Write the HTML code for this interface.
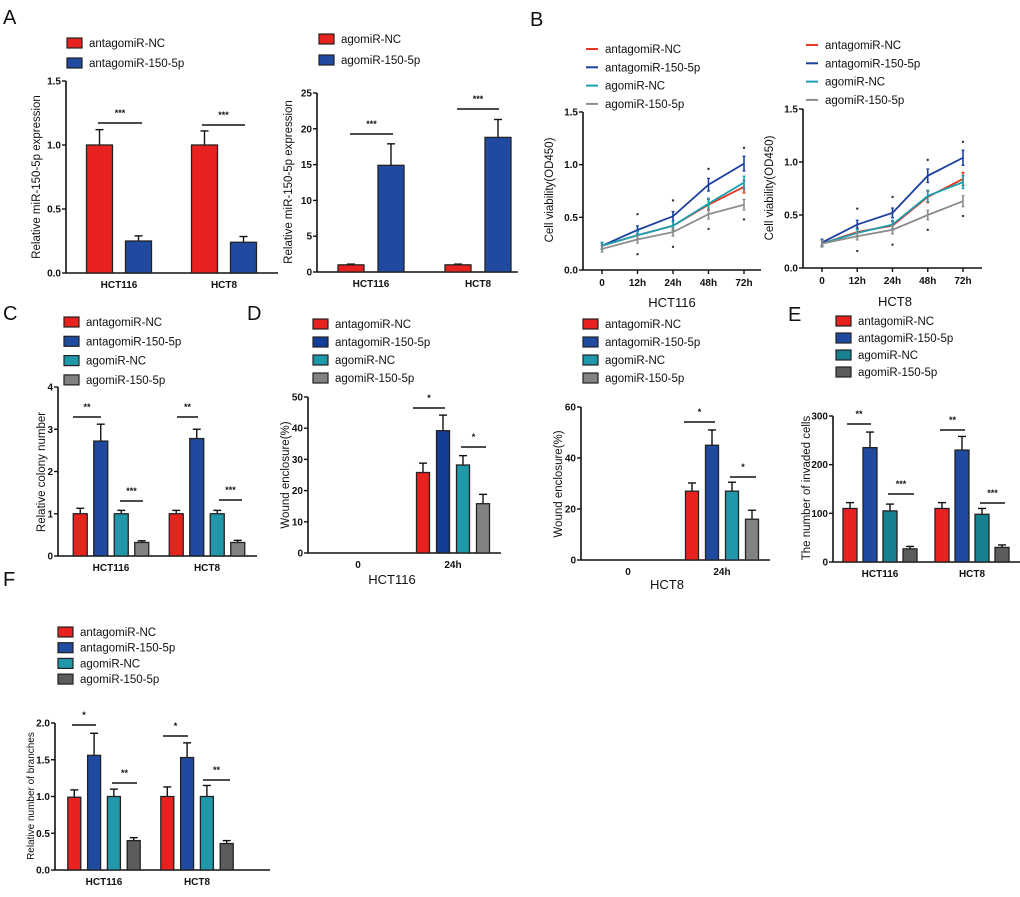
<!DOCTYPE html>
<html><head><meta charset="utf-8">
<style>
html,body{margin:0;padding:0;background:#fff;}
svg{display:block;font-family:"Liberation Sans",Arial,sans-serif;}
.tk{font-size:10px;font-weight:bold;fill:#111;}
.lg{font-size:11.5px;fill:#111;}
.yt{font-size:11.5px;fill:#111;}
.pl{font-size:20px;fill:#111;}
.sig{font-size:9px;fill:#111;font-weight:bold;}
</style></head>
<body>
<svg id="fig" width="1020" height="897" viewBox="0 0 1020 897" xmlns="http://www.w3.org/2000/svg">
<text class="pl" x="3" y="24">A</text>
<text class="pl" x="530" y="26">B</text>
<text class="pl" x="3" y="320">C</text>
<text class="pl" x="247" y="320">D</text>
<text class="pl" x="788" y="321">E</text>
<text class="pl" x="3" y="586">F</text>
</svg>
<script>
// ---------- data ----------
const groups2 = ["HCT116","HCT8"];
const seriesA = ["antagomiR-NC","antagomiR-150-5p"];
const seriesAg = ["agomiR-NC","agomiR-150-5p"];
const series4 = ["antagomiR-NC","antagomiR-150-5p","agomiR-NC","agomiR-150-5p"];
const woundCats = ["0","24h"];
const timeCats = ["0","12h","24h","48h","72h"];

const a1Vals = [[1.0,0.25],[1.0,0.24]];
const a1Err  = [[0.12,0.04],[0.11,0.045]];
const a1Ticks = ["0.0","0.5","1.0","1.5"];
const a2Vals = [[1.0,14.9],[1.0,18.8]];
const a2Err  = [[0.1,3.0],[0.1,2.5]];
const a2Ticks = ["0","5","10","15","20","25"];

const b1Red = [0.23,0.33,0.42,0.62,0.79];
const b1Blue = [0.23,0.38,0.51,0.81,1.01];
const b1Teal = [0.23,0.33,0.42,0.63,0.83];
const b1Gray = [0.20,0.29,0.36,0.53,0.62];
const b2Red = [0.23,0.34,0.40,0.67,0.84];
const b2Blue = [0.24,0.41,0.52,0.87,1.04];
const b2Teal = [0.23,0.33,0.41,0.68,0.81];
const b2Gray = [0.23,0.30,0.36,0.50,0.63];
const bTicks = ["0.0","0.5","1.0","1.5"];

const cVals = [[1.0,2.72,1.0,0.32],[1.0,2.78,1.0,0.32]];
const cErr  = [[0.13,0.4,0.08,0.04],[0.08,0.22,0.08,0.05]];
const cTicks = ["0","1","2","3","4"];

const d1Vals = [[0,0,0,0],[25.8,39.2,28.2,15.8]];
const d1Err  = [[0,0,0,0],[3,5,3,3]];
const d1Ticks = ["0","10","20","30","40","50"];
const d2Vals = [[0,0,0,0],[27,45,27,16]];
const d2Err  = [[0,0,0,0],[3.2,6,3.5,3.5]];
const d2Ticks = ["0","20","40","60"];

const eVals = [[110,235,105,27],[110,230,98,30]];
const eErr  = [[12,32,14,5],[12,28,12,5]];
const eTicks = ["0","100","200","300"];

const fVals = [[0.99,1.56,1.0,0.4],[1.0,1.53,1.0,0.36]];
const fErr  = [[0.1,0.3,0.1,0.04],[0.13,0.2,0.15,0.04]];
const fTicks = ["0.0","0.5","1.0","1.5","2.0"];

// ---------- helpers ----------
const svg = document.getElementById('fig');
const NS = "http://www.w3.org/2000/svg";
function mk(tag, attrs, parent){
  const e = document.createElementNS(NS, tag);
  for (const k in attrs) e.setAttribute(k, attrs[k]);
  (parent||svg).appendChild(e);
  return e;
}
const RED="#e8231f", BLUE="#1f4aa0", DBLUE="#133d96", TEAL="#2197aa", DTEAL="#17808f", GRAY="#828282", DGRAY="#5c5c5c";

function yAxis(g, c){
  const ys = v => c.y0 - (v - 0)/(c.max) * (c.y0 - c.yTop);
  const ax = mk('line',{x1:c.x0,y1:c.yTop,x2:c.x0,y2:c.y0,stroke:"#111","stroke-width":1.6},g);
  
  
  c.ticks.forEach(t=>{
    const y = ys(parseFloat(t));
    mk('line',{x1:c.x0-4,y1:y,x2:c.x0,y2:y,stroke:"#111","stroke-width":1.4},g);
    const tx = mk('text',{x:c.x0-5,y:y+3.5,"text-anchor":"end",class:"tk"},g);
    tx.textContent = t;
    
    
  });
  const xa = mk('line',{x1:c.x0,y1:c.y0,x2:c.xEnd,y2:c.y0,stroke:"#111","stroke-width":1.6},g);
  
  
  const yt = mk('text',{x:0,y:0,"text-anchor":"middle",class:"yt",transform:`translate(${c.ytx},${c.yty}) rotate(-90)`},g);
  if (c.ytfs) yt.setAttribute('style','font-size:'+c.ytfs+'px');
  yt.textContent = c.ytitle;
  
  
  return ys;
}
function legend(g, names, colors, x, y0, dy, kind){
  names.forEach((n,i)=>{
    const y = y0 + i*dy;
    if(kind==='line'){
      mk('line',{x1:x,y1:y,x2:x+12,y2:y,stroke:colors[i],"stroke-width":2},g);
    } else {
      const r = mk('rect',{x:x,y:y-5,width:15,height:10,fill:colors[i],stroke:"#222","stroke-width":1.2},g);
      
      
    }
    const t = mk('text',{x:x+(kind==='line'?19:22),y:y+4,class:"lg"},g);
    t.textContent = n;
    
    
  });
}
function sigBar(g, x1, x2, y, label){
  mk('line',{x1:x1,y1:y,x2:x2,y2:y,stroke:"#111","stroke-width":1.5},g);
  const t = mk('text',{x:(x1+x2)/2,y:y-7,"text-anchor":"middle",class:"sig"},g);
  t.textContent = label;
  
  
}
function barChart(c){
  const g = mk('g',{});
  
  
  const ys = yAxis(g, c);
  c.vals.forEach((grp, gi)=>{
    const n = grp.length;
    grp.forEach((v, si)=>{
      const x = c.gc[gi] + (si - (n-1)/2)*c.step - c.bw/2;
      const y = ys(v);
      if (v > 0){
        const e = c.err[gi][si];
        const ye = ys(v+e);
        mk('line',{x1:x+c.bw/2,y1:y,x2:x+c.bw/2,y2:ye,stroke:"#111","stroke-width":1.4},g);
        mk('line',{x1:x+c.bw/2-4,y1:ye,x2:x+c.bw/2+4,y2:ye,stroke:"#111","stroke-width":1.4},g);
        const r = mk('rect',{x:x,y:y,width:c.bw,height:c.y0-y,fill:c.colors[si],stroke:"#222","stroke-width":1.3},g);
        
        
      }
    });
    const t = mk('text',{x:c.gc[gi],y:c.y0+15,"text-anchor":"middle",class:"tk"},g);
    t.textContent = c.cats[gi];
    
    
  });
  legend(g, c.series, c.colors, c.lx, c.ly, c.ldy, 'rect');
  (c.sigs||[]).forEach(s=>sigBar(g, s[0], s[1], s[2], s[3]));
  if (c.xtitle){
    const t = mk('text',{x:c.xtx,y:c.xty,"text-anchor":"middle",class:"yt",style:"font-size:13px"},g);
    t.textContent = c.xtitle;
    
    
  }
}
function lineChart(c){
  const g = mk('g',{});
  
  
  const ys = yAxis(g, c);
  const xs = i => c.xFirst + i*(c.xLast-c.xFirst)/(timeCats.length-1);
  timeCats.forEach((t,i)=>{
    mk('line',{x1:xs(i),y1:c.y0,x2:xs(i),y2:c.y0+4,stroke:"#111","stroke-width":1.4},g);
    const tx = mk('text',{x:xs(i),y:c.y0+16,"text-anchor":"middle",class:"tk"},g);
    tx.textContent = t;
    
    
  });
  c.data.forEach((arr, si)=>{
    const pts = arr.map((v,i)=>xs(i)+","+ys(v)).join(" ");
    const pl = mk('polyline',{points:pts,fill:"none",stroke:c.colors[si],"stroke-width":1.8},g);
    
    
    arr.forEach((v,i)=>{
      const e = 0.02 + 0.05*v;
      mk('line',{x1:xs(i),y1:ys(v-e),x2:xs(i),y2:ys(v+e),stroke:c.colors[si],"stroke-width":1.6},g);
      mk('line',{x1:xs(i)-1.5,y1:ys(v+e),x2:xs(i)+1.5,y2:ys(v+e),stroke:c.colors[si],"stroke-width":1.2},g);
      mk('line',{x1:xs(i)-1.5,y1:ys(v-e),x2:xs(i)+1.5,y2:ys(v-e),stroke:c.colors[si],"stroke-width":1.2},g);
    });
  });
  for (let i=1;i<timeCats.length;i++){
    mk('circle',{cx:xs(i),cy:ys(c.data[1][i]+0.15),r:1.2,fill:"#333"},g);
    mk('circle',{cx:xs(i),cy:ys(c.data[3][i]-0.14),r:1.2,fill:"#333"},g);
  }
  legend(g, c.series, c.colors, c.lx, c.ly, c.ldy, 'line');
  const t = mk('text',{x:c.xtx,y:c.xty,"text-anchor":"middle",class:"yt",style:"font-size:13px"},g);
  t.textContent = c.xtitle;
  
  
}

// ---------- panels ----------
barChart({name:"chart-a-antagomir",x0:66,yTop:81,y0:273,xEnd:278,max:1.5,ticks:a1Ticks,
  ytitle:"Relative miR-150-5p expression",ytx:40,yty:177,
  cats:groups2,series:seriesA,vals:a1Vals,err:a1Err,colors:[RED,BLUE],
  gc:[119,224],bw:26,step:39,lx:67,ly:43,ldy:20,
  sigs:[[98,142,123,"***"],[202,245,125,"***"]]});
barChart({name:"chart-a-agomir",x0:317,yTop:93,y0:272,xEnd:518,max:25,ticks:a2Ticks,
  ytitle:"Relative miR-150-5p expression",ytx:292,yty:182,
  cats:groups2,series:seriesAg,vals:a2Vals,err:a2Err,colors:[RED,BLUE],
  gc:[371,478],bw:26,step:40,lx:319,ly:39,ldy:21,
  sigs:[[350,393,134,"***"],[457,499,109,"***"]]});
lineChart({name:"chart-b-hct116",x0:583,yTop:112,y0:270,xEnd:761,max:1.5,ticks:bTicks,
  ytitle:"Cell viability(OD450)",ytx:553,yty:190,
  xFirst:602,xLast:744,data:[b1Red,b1Blue,b1Teal,b1Gray],series:series4,
  colors:["#e8361e","#1a3fa0","#1aa0b0","#8c8c8c"],lx:586,ly:49,ldy:18.3,
  xtitle:"HCT116",xtx:672,xty:307});
lineChart({name:"chart-b-hct8",x0:803,yTop:109,y0:268,xEnd:982,max:1.5,ticks:bTicks,
  ytitle:"Cell viability(OD450)",ytx:773,yty:188,
  xFirst:822,xLast:963,data:[b2Red,b2Blue,b2Teal,b2Gray],series:series4,
  colors:["#e8361e","#1a3fa0","#1aa0b0","#8c8c8c"],lx:806,ly:45,ldy:18.3,
  xtitle:"HCT8",xtx:895,xty:306});
barChart({name:"chart-c-colony",x0:58,yTop:387,y0:556,xEnd:257,max:4,ticks:cTicks,
  ytitle:"Relative colony number",ytx:45,yty:472,
  cats:groups2,series:series4,vals:cVals,err:cErr,colors:[RED,BLUE,TEAL,GRAY],
  gc:[111,207],bw:14,step:20.5,lx:64,ly:322,ldy:19.3,
  sigs:[[73,101,417,"**"],[120,143,501,"***"],[177,198,417,"**"],[219,242,500,"***"]]});
barChart({name:"chart-d-hct116",x0:308,yTop:397,y0:553,xEnd:501,max:50,ticks:d1Ticks,
  ytitle:"Wound enclosure(%)",ytx:289,yty:475,
  cats:woundCats,series:series4,vals:d1Vals,err:d1Err,colors:[RED,DBLUE,TEAL,GRAY],
  gc:[358,453],bw:13,step:20,lx:313,ly:324,ldy:18,
  sigs:[[413,445,408,"*"],[461,486,447,"*"]],
  xtitle:"HCT116",xtx:392,xty:584});
barChart({name:"chart-d-hct8",x0:581,yTop:407,y0:560,xEnd:770,max:60,ticks:d2Ticks,
  ytitle:"Wound enclosure(%)",ytx:562,yty:484,
  cats:woundCats,series:series4,vals:d2Vals,err:d2Err,colors:[RED,BLUE,TEAL,GRAY],
  gc:[628,722],bw:13,step:20,lx:583,ly:324,ldy:18,
  sigs:[[684,715,422,"*"],[730,756,477,"*"]],
  xtitle:"HCT8",xtx:667,xty:589});
barChart({name:"chart-e-invasion",x0:833,yTop:416,y0:562,xEnd:1020,max:300,ticks:eTicks,
  ytitle:"The number of invaded cells",ytx:810,yty:488,
  cats:groups2,series:series4,vals:eVals,err:eErr,colors:[RED,BLUE,DTEAL,DGRAY],
  gc:[880,972],bw:14,step:20,lx:836,ly:321,ldy:17,
  sigs:[[847,871,424,"**"],[888,914,494,"***"],[940,965,430,"**"],[980,1005,503,"***"]]});
barChart({name:"chart-f-branches",x0:55,yTop:723,y0:870,xEnd:270,max:2,ticks:fTicks,
  ytitle:"Relative number of branches",ytx:34,yty:796,ytfs:10,
  cats:groups2,series:series4,vals:fVals,err:fErr,colors:[RED,BLUE,TEAL,DGRAY],
  gc:[104,197],bw:13,step:19.8,lx:58,ly:632,ldy:15.7,
  sigs:[[72,96,725,"*"],[112,137,783,"**"],[163,188,736,"*"],[203,230,780,"**"]]});
</script>
</body></html>
